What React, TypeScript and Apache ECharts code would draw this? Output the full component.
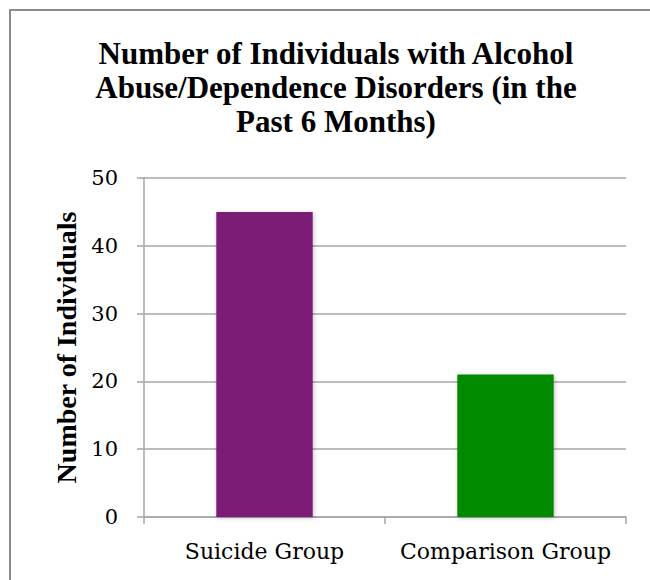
import React, { useEffect, useRef } from "react";
import * as echarts from "echarts";

const categories = ["Suicide Group", "Comparison Group"];
const values = [45, 21];
const barColors = ["#7B1A77", "#008A00"];
const titleLines = [
  "Number of Individuals with Alcohol",
  "Abuse/Dependence Disorders (in the",
  "Past 6 Months)",
];
const yAxisTitle = "Number of Individuals";

const LABEL_FONT = "DejaVu Serif, Liberation Serif, serif";
const TITLE_FONT = "Liberation Serif, serif";
const GRID = "#a6a6a6";

export default function App() {
  const ref = useRef<HTMLDivElement>(null);
  useEffect(() => {
    document.body.style.margin = "0";
    document.body.style.overflow = "hidden";
    if (!ref.current) return;
    const chart = echarts.init(ref.current, undefined, { renderer: "svg" });
    chart.setOption({
      animation: false,
      backgroundColor: "#ffffff",
      graphic: [
        {
          type: "line",
          shape: { x1: 9, y1: 10, x2: 660, y2: 10 },
          style: { stroke: "#8c8c8c", lineWidth: 2 },
          silent: true,
        },
        {
          type: "line",
          shape: { x1: 10, y1: 9, x2: 10, y2: 600 },
          style: { stroke: "#8c8c8c", lineWidth: 2 },
          silent: true,
        },
        {
          type: "text",
          x: 336,
          y: 36,
          style: {
            text: titleLines.join("\n"),
            font: `bold 31px ${TITLE_FONT}`,
            fill: "#000",
            textAlign: "center",
            textVerticalAlign: "top",
            lineHeight: 34,
          },
        },
      ],
      grid: { left: 144, top: 178, width: 482, height: 339, containLabel: false },
      xAxis: {
        type: "category",
        data: categories,
        axisLine: { lineStyle: { color: GRID, width: 1.5 } },
        axisTick: { show: true, length: 7, lineStyle: { color: GRID, width: 1.5 } },
        axisLabel: { color: "#000", fontFamily: LABEL_FONT, fontSize: 22, margin: 23, interval: 0 },
      },
      yAxis: {
        type: "value",
        min: 0,
        max: 50,
        interval: 10,
        name: yAxisTitle,
        nameLocation: "middle",
        nameGap: 60,
        nameRotate: 90,
        nameTextStyle: { fontFamily: TITLE_FONT, fontWeight: "bold", fontSize: 28, color: "#000" },
        axisLine: { show: true, lineStyle: { color: GRID, width: 1.5 } },
        axisTick: { show: true, length: 7, lineStyle: { color: GRID, width: 1.5 } },
        axisLabel: { color: "#000", fontFamily: LABEL_FONT, fontSize: 21, margin: 26 },
        splitLine: { show: true, lineStyle: { color: GRID, width: 1.5 } },
      },
      series: [
        {
          type: "bar",
          data: values.map((v, i) => ({
            value: v,
            itemStyle: { color: barColors[i] },
          })),
          barWidth: "40%",
          itemStyle: {
            shadowColor: "rgba(0,0,0,0.25)",
            shadowBlur: 4,
            shadowOffsetX: 1,
            shadowOffsetY: 1,
          },
        },
      ],
    });
    return () => chart.dispose();
  }, []);
  return <div ref={ref} style={{ width: 650, height: 580 }} />;
}
